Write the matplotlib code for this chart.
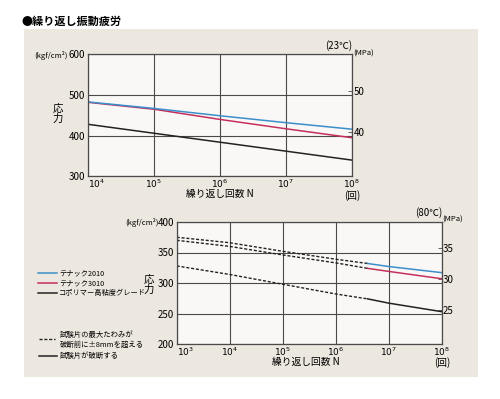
import math
import matplotlib
matplotlib.use('Agg')
import matplotlib.pyplot as plt
from matplotlib.patches import Rectangle
from matplotlib.lines import Line2D

plt.rcParams['font.family'] = ['Noto Sans CJK JP', 'DejaVu Sans']

# 23C data (cycles, kgf/cm2)
top_n = [1e4, 1e5, 1e6, 1e7, 1e8]
top_2010 = [483, 467, 449, 432, 416]
top_3010 = [482, 465, 440, 417, 395]
top_copoly = [428, 406, 384, 362, 340]

# 80C data; dashed up to break_n, solid after
bot_n = [1e3, 1e4, 1e5, 1e6, 4e6, 1e7, 1e8]
bot_2010 = [375, 366, 352, 339, 332, 327, 317]
bot_3010 = [370, 360, 346, 333, 324, 319, 307]
bot_copoly = [328, 314, 298, 282, 274, 267, 253]
break_n = 4e6

series_names = ['テナック2010', 'テナック3010', 'コポリマー高粘度グレード']
colors = ['#3b8fca', '#c4305c', '#222222']

W, H = 500, 399


def fx(x):
    return x / W


def fy(y):
    return 1 - y / H


def kgf_to_mpa(v):
    return v * 0.0980665


def mpa_to_kgf(v):
    return v / 0.0980665


fig = plt.figure(figsize=(5, 3.99), dpi=100)
fig.patch.set_facecolor('white')
fig.patches.append(Rectangle((fx(24), fy(377)), (478 - 24) / W, (377 - 29) / H,
                             transform=fig.transFigure, facecolor='#ede8df',
                             edgecolor='none', zorder=-5))

fig.text(fx(22), fy(21), '●繰り返し振動疲労', fontsize=8, fontweight='bold',
         va='center', ha='left')


def setup_axes(rect, xlim, ylim, yticks, mpa_ticks):
    ax = fig.add_axes(rect)
    ax.set_facecolor('#f9f8f6')
    ax.set_xscale('log')
    ax.set_xlim(*xlim)
    ax.set_ylim(*ylim)
    ax.set_yticks(yticks)
    ax.minorticks_off()
    lo, hi = round(math.log10(xlim[0])), round(math.log10(xlim[1]))
    ax.set_xticks([10.0 ** e for e in range(lo, hi + 1)])
    ax.set_xticklabels([r'$10^{%d}$' % e for e in range(lo, hi + 1)])
    # first decade label sits just right of the corner, as in the original
    ax.get_xticklabels()[0].set_ha('left')
    ax.grid(True, color='#4a4a4a', linewidth=0.8)
    ax.tick_params(length=0, labelsize=7, pad=2)
    ax.tick_params(axis='x', labelsize=6.5, pad=1)
    for s in ax.spines.values():
        s.set_color('#4a4a4a')
        s.set_linewidth(0.9)
    sec = ax.secondary_yaxis('right', functions=(kgf_to_mpa, mpa_to_kgf))
    sec.set_yticks(mpa_ticks)
    sec.tick_params(direction='in', length=3, width=0.6, labelsize=7, pad=1, color='#4a4a4a')
    sec.spines['right'].set_visible(False)
    return ax


# top chart 23C
ax1 = setup_axes([fx(88), fy(176.4), (352 - 88) / W, (176.4 - 54.3) / H],
                 (1e4, 1e8), (300, 600), [300, 400, 500, 600], [40, 50])
for vals, c in zip([top_copoly, top_3010, top_2010], colors[::-1]):
    ax1.plot(top_n, vals, color=c, lw=1.1)

fig.text(fx(51), fy(55.5), '(kgf/cm²)', fontsize=5.5, ha='center', va='center')
fig.text(fx(58), fy(114), '応\n力', fontsize=7.5, ha='center', va='center', linespacing=0.95)
fig.text(fx(339), fy(46), '(23℃)', fontsize=7, ha='center', va='center')
fig.text(fx(364), fy(53.5), '(MPa)', fontsize=5.5, ha='center', va='center')
fig.text(fx(220), fy(194), '繰り返し回数 N', fontsize=7, ha='center', va='center')
fig.text(fx(352), fy(195.5), '(回)', fontsize=7, ha='center', va='center')

# bottom chart 80C
ax2 = setup_axes([fx(176.7), fy(344), (441.7 - 176.7) / W, (344 - 222) / H],
                 (1e3, 1e8), (200, 400), [200, 250, 300, 350, 400], [25, 30, 35])
k = bot_n.index(break_n)
for vals, c in zip([bot_copoly, bot_3010, bot_2010], colors[::-1]):
    ax2.plot(bot_n[:k + 1], vals[:k + 1], color='#222222', lw=1.0, linestyle=(0, (2.2, 1.3)))
    ax2.plot(bot_n[k:], vals[k:], color=c, lw=1.1)

fig.text(fx(142), fy(222.5), '(kgf/cm²)', fontsize=5.5, ha='center', va='center')
fig.text(fx(149), fy(285), '応\n力', fontsize=7.5, ha='center', va='center', linespacing=0.95)
fig.text(fx(428.5), fy(212.5), '(80℃)', fontsize=7, ha='center', va='center')
fig.text(fx(453), fy(219.5), '(MPa)', fontsize=5.5, ha='center', va='center')
fig.text(fx(306), fy(362), '繰り返し回数 N', fontsize=7, ha='center', va='center')
fig.text(fx(442), fy(363), '(回)', fontsize=7, ha='center', va='center')

# legend
for i, (name, c) in enumerate(zip(series_names, colors)):
    y = 273.3 + i * 10
    fig.add_artist(Line2D([fx(38), fx(57)], [fy(y), fy(y)], color=c, lw=1.1))
    fig.text(fx(59), fy(y), name, fontsize=5.2, ha='left', va='center')

fig.add_artist(Line2D([fx(39), fx(55)], [fy(339), fy(339)], color='#222222', lw=1.0,
                      linestyle=(0, (2.2, 1.3))))
fig.text(fx(60), fy(339.5), '試験片の最大たわみが\n破断前に±8mmを超える', fontsize=5.3,
         ha='left', va='center', linespacing=1.3)
fig.add_artist(Line2D([fx(39), fx(57)], [fy(356), fy(356)], color='#222222', lw=1.1))
fig.text(fx(60), fy(356), '試験片が破断する', fontsize=5.3, ha='left', va='center')

fig.savefig('out.png', dpi=100)
